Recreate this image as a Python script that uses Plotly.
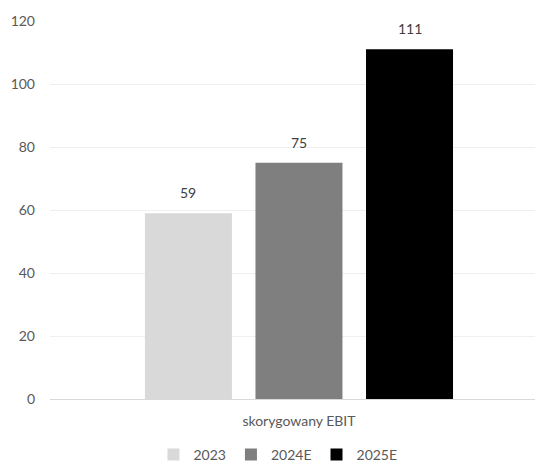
import plotly.graph_objects as go

categories = ["skorygowany EBIT"]
series_names = ["2023", "2024E", "2025E"]
values_2023 = [59]
values_2024 = [75]
values_2025 = [111]
colors = ["#d9d9d9", "#7f7f7f", "#000000"]
y_ticks = [0, 20, 40, 60, 80, 100, 120]

BARGAP = 0.334
GROUPGAP = 0.213

fig = go.Figure()
all_vals = [values_2023, values_2024, values_2025]
n = len(series_names)
slot = (1 - BARGAP) / n
for i, (name, vals, col) in enumerate(zip(series_names, all_vals, colors)):
    fig.add_trace(go.Bar(
        name=name, x=categories, y=vals, marker_color=col, marker_line_width=0,
    ))
    # data labels placed above each grouped bar, using the axis's own coordinates
    for ci, v in enumerate(vals):
        fig.add_annotation(
            x=ci - (1 - BARGAP) / 2 + slot * (i + 0.5), y=v, xref="x", yref="y",
            text=str(v), showarrow=False, yanchor="bottom", yshift=10,
            font=dict(size=14, color="#404040", family="Lato"),
        )

fig.update_layout(
    width=535, height=470,
    margin=dict(l=50, r=0, t=21, b=71, autoexpand=False),
    paper_bgcolor="white", plot_bgcolor="white",
    barmode="group", bargap=BARGAP, bargroupgap=GROUPGAP,
    font=dict(family="Lato", size=14, color="#595959"),
    showlegend=True,
    legend=dict(orientation="h", x=0.47, xanchor="center", y=-0.148, yanchor="middle",
                font=dict(size=14, color="#595959"), traceorder="normal",
                itemwidth=30),
    xaxis=dict(range=[-0.5, 0.474], showgrid=False, showline=True, linecolor="#d9d9d9",
               linewidth=1, ticks="", ticklabelstandoff=9, fixedrange=True),
    yaxis=dict(range=[0, 120], tickvals=y_ticks, showgrid=True, gridcolor="#efefef",
               gridwidth=1, zeroline=False, showline=False, ticks="",
               ticklabelstandoff=14),
)

fig.write_html("out.html")
